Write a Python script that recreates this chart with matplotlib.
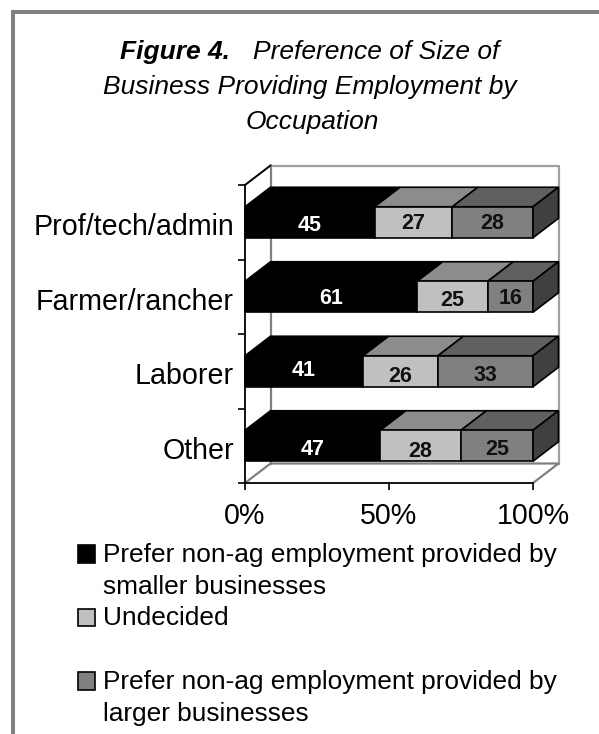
import matplotlib
matplotlib.use("Agg")
import matplotlib.pyplot as plt
from matplotlib.patches import Polygon, Rectangle, Patch
from matplotlib.lines import Line2D
from matplotlib.transforms import ScaledTranslation

plt.rcParams['font.family'] = ['Liberation Sans', 'DejaVu Sans']

categories = ["Prof/tech/admin", "Farmer/rancher", "Laborer", "Other"]
smaller = [45, 61, 41, 47]
undecided = [27, 25, 26, 28]
larger = [28, 16, 33, 25]
series = [smaller, undecided, larger]
series_names = ["Prefer non-ag employment provided by\nsmaller businesses",
                "Undecided\n ",
                "Prefer non-ag employment provided by\nlarger businesses"]
x_ticks = [0, 50, 100]
x_labels = ["0%", "50%", "100%"]
title_lines = ["Figure 4.", "Preference of Size of", "Business Providing Employment by", "Occupation"]

W, H = 599, 734
fig = plt.figure(figsize=(W / 100, H / 100), dpi=100, facecolor="white")

# frame
bg = fig.add_axes([0, 0, 1, 1]); bg.set_axis_off()
bg.set_xlim(0, W); bg.set_ylim(H, 0)
bg.add_patch(Rectangle((11, 10), W - 11, 4, fc="#808080", ec="none"))
bg.add_patch(Rectangle((11, 10), 4, H - 10, fc="#808080", ec="none"))

# plot axes: front plane x 245..533 px, y 185..483 px
L, R, T, B = 245, 533, 185, 483
ax = fig.add_axes([L / W, 1 - B / H, (R - L) / W, (B - T) / H])
ax.set_xlim(0, 100)
ax.set_ylim(3.5, -0.5)
ax.patch.set_visible(False)
for s in ["top", "right"]:
    ax.spines[s].set_visible(False)
for s in ["left", "bottom"]:
    ax.spines[s].set_color("black")
    ax.spines[s].set_linewidth(1.3)
ax.set_xticks(x_ticks)
ax.set_xticklabels(x_labels, fontsize=20.6)
ax.set_yticks([-0.5, 0.5, 1.5, 2.5, 3.5])
ax.set_yticklabels([])
ax.set_yticks(range(4), minor=True)
ax.set_yticklabels(categories, minor=True, fontsize=20.6)
ax.tick_params(axis="y", which="minor", length=0, pad=8)
ax.tick_params(axis="y", which="major", length=5, width=1.2)
ax.tick_params(axis="x", length=5, width=1.2, direction="out", pad=9)
for t in ax.get_yticklabels(minor=True):
    t.set_transform(t.get_transform() + ScaledTranslation(0, -1.5 / 72, fig.dpi_scale_trans))

DX = 25.5 / (R - L) * 100           # depth in data units
DY = 19.5 / (B - T) * 4
BAR = 31 / (B - T) * 4

kw = dict(clip_on=False)
# walls
ax.add_line(Line2D([0, DX], [-0.5, -0.5 - DY], color="black", lw=1.4, zorder=2, **kw))
ax.add_line(Line2D([DX, DX], [-0.5 - DY, 3.5 - DY], color="#808080", lw=1.6, zorder=1, **kw))
ax.add_line(Line2D([DX, 100 + DX, 100 + DX], [-0.5 - DY, -0.5 - DY, 3.5 - DY], color="#a0a0a0", lw=1.6, zorder=1, **kw))
ax.add_line(Line2D([0, DX, 100 + DX, 100], [3.5, 3.5 - DY, 3.5 - DY, 3.5], color="#808080", lw=1.6, zorder=1, **kw))

front = ["black", "#c0c0c0", "#808080"]
top = ["black", "#8c8c8c", "#606060"]
side = "#404040"
text_colors = ["white", "#111111", "#111111"]
label_dy = [[3, 1, 1], [2, 4, 2], [-1, 5, 4], [4, 6, 4]]

for i in range(len(categories)):
    y1 = i + BAR / 2
    y0 = i - BAR / 2
    total = sum(s[i] for s in series)
    left = 0
    for j, values in enumerate(series):
        v = values[i] / total * 100   # 100 % stacked, as in the reference
        z = 3 + j
        ec = "black"
        ax.add_patch(Polygon([(left, y0), (left + DX, y0 - DY), (left + v + DX, y0 - DY), (left + v, y0)],
                             fc=top[j], ec=ec, lw=1.2, zorder=z, **kw))
        ax.add_patch(Rectangle((left, y0), v, BAR, fc=front[j], ec=ec, lw=1.2, zorder=z, **kw))
        if j == len(series) - 1:
            ax.add_patch(Polygon([(left + v, y0), (left + v + DX, y0 - DY), (left + v + DX, y1 - DY), (left + v, y1)],
                                 fc=side, ec=ec, lw=1.2, zorder=z, **kw))
        ax.annotate(str(values[i]), (left + v / 2, i), xytext=(0, -label_dy[i][j] * 0.72),
                    textcoords="offset points", ha="center", va="center", fontsize=15.5,
                    fontweight="bold", color=text_colors[j], zorder=10)
        left += v

# title
bg.text(120, 59, title_lines[0], fontsize=19, fontweight="bold", style="italic", ha="left", va="baseline")
bg.text(253, 59, title_lines[1], fontsize=19, style="italic", ha="left", va="baseline")
bg.text(310, 94, title_lines[2], fontsize=19, style="italic", ha="center", va="baseline")
bg.text(312, 129, title_lines[3], fontsize=19, style="italic", ha="center", va="baseline")

# legend
handles = [Patch(fc=c, ec="black", lw=1.2) for c in front]
leg = fig.legend(handles, series_names, loc="upper left", bbox_to_anchor=(78 / W, 1 - 543 / H),
                 frameon=False, fontsize=18.9, handlelength=0.65, handleheight=0.65,
                 handletextpad=0.32, labelspacing=0.3, borderpad=0, borderaxespad=0)
for t in leg.get_texts():
    t.set_linespacing(1.4)
for p in leg.get_patches():
    p.set_y(p.get_y() + 17 / 100 * 72)

fig.savefig("out.png", dpi=100)
